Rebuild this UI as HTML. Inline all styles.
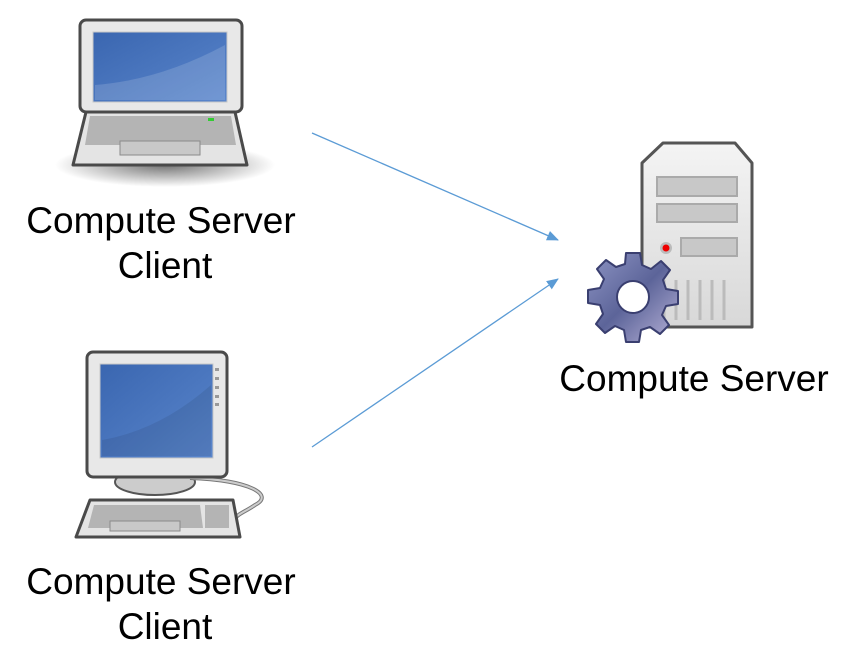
<!DOCTYPE html>
<html><head><meta charset="utf-8"><style>
html,body{margin:0;padding:0;background:#fff;}
svg{display:block;}
text{font-family:"Liberation Sans",Arial,sans-serif;font-size:37px;fill:#000;}
</style></head><body>
<svg width="855" height="672" viewBox="0 0 855 672" xmlns="http://www.w3.org/2000/svg">
<defs>
<linearGradient id="scr" x1="0" y1="0" x2="1" y2="1">
<stop offset="0" stop-color="#3a66b0"/><stop offset="1" stop-color="#5a86cc"/></linearGradient>
<radialGradient id="sh" cx="0.5" cy="0.5" r="0.5">
<stop offset="0" stop-color="#000" stop-opacity="0.55"/><stop offset="1" stop-color="#000" stop-opacity="0"/></radialGradient>
<linearGradient id="gear" x1="0" y1="0" x2="1" y2="1">
<stop offset="0" stop-color="#8e95c4"/><stop offset="0.5" stop-color="#5c6499"/><stop offset="1" stop-color="#b8b3d8"/></linearGradient>
<linearGradient id="srv" x1="0" y1="0" x2="0" y2="1">
<stop offset="0" stop-color="#f4f4f4"/><stop offset="1" stop-color="#d8d8d8"/></linearGradient>
<marker id="ah" markerWidth="12" markerHeight="10" refX="11" refY="5" orient="auto" markerUnits="userSpaceOnUse">
<path d="M0,0 L12,5 L0,10 Z" fill="#5b9bd5"/></marker>
</defs>

<ellipse cx="165" cy="165" rx="110" ry="22" fill="url(#sh)"/>
<path d="M86,112 L235,112 L247,165 L73,165 Z" fill="#e4e4e4" stroke="#4a4a4a" stroke-width="3" stroke-linejoin="round"/>
<path d="M90,116 L231,116 L236,145 L85,145 Z" fill="#b4b4b4"/>
<rect x="120" y="141" width="80" height="14" fill="#c8c8c8" stroke="#8a8a8a"/>
<rect x="208" y="118" width="6" height="3" fill="#3c3"/>
<rect x="80" y="20" width="162" height="92" rx="6" fill="#e8e8e8" stroke="#4a4a4a" stroke-width="3"/>
<rect x="93" y="32" width="134" height="70" fill="url(#scr)" stroke="#c8c8c8"/>
<path d="M95,85 Q160,80 225,45 L225,100 L95,100 Z" fill="#fff" opacity="0.15"/>

<ellipse cx="155" cy="482" rx="40" ry="13" fill="#ccc" stroke="#555" stroke-width="2"/>
<path d="M190,478 C250,480 275,495 255,505 C245,512 235,515 235,520" fill="none" stroke="#777" stroke-width="4"/>
<path d="M190,478 C250,480 275,495 255,505 C245,512 235,515 235,520" fill="none" stroke="#ccc" stroke-width="2"/>
<path d="M90,500 L233,500 L240,537 L76,537 Z" fill="#e4e4e4" stroke="#4a4a4a" stroke-width="3" stroke-linejoin="round"/>
<path d="M94,505 L200,505 L203,528 L88,528 Z" fill="#b4b4b4"/>
<rect x="205" y="505" width="24" height="23" fill="#b4b4b4"/>
<rect x="110" y="521" width="70" height="10" fill="#c8c8c8" stroke="#8a8a8a"/>
<rect x="87" y="352" width="140" height="125" rx="6" fill="#e8e8e8" stroke="#4a4a4a" stroke-width="3"/>
<rect x="100" y="364" width="113" height="94" fill="url(#scr)" stroke="#c8c8c8"/>
<path d="M102,440 Q160,430 211,385 L211,456 L102,456 Z" fill="#000" opacity="0.08"/>
<g fill="#999"><rect x="215" y="368" width="4" height="3"/><rect x="215" y="377" width="4" height="3"/><rect x="215" y="386" width="4" height="3"/><rect x="215" y="395" width="4" height="3"/><rect x="215" y="403" width="4" height="3"/></g>

<path d="M663,143 L735,143 L752,163 L752,327 L642,327 L642,163 Z" fill="url(#srv)" stroke="#555" stroke-width="3" stroke-linejoin="round"/>
<rect x="657" y="177" width="80" height="19" fill="#c8c8c8" stroke="#aaa" stroke-width="2"/>
<rect x="657" y="204" width="80" height="18" fill="#c8c8c8" stroke="#aaa" stroke-width="2"/>
<rect x="681" y="238" width="56" height="18" fill="#c8c8c8" stroke="#aaa" stroke-width="2"/>
<circle cx="666" cy="248" r="6" fill="#bbb"/><circle cx="666" cy="248" r="3.5" fill="#e00"/>
<g stroke="#bbb" stroke-width="3"><line x1="664" y1="280" x2="664" y2="320"/><line x1="676" y1="280" x2="676" y2="320"/><line x1="688" y1="280" x2="688" y2="320"/><line x1="700" y1="280" x2="700" y2="320"/><line x1="712" y1="280" x2="712" y2="320"/><line x1="724" y1="280" x2="724" y2="320"/></g>
<g transform="translate(633,297)">
<path d="M-7,-44 L7,-44 L9,-32 L18,-28 L28,-36 L37,-27 L30,-17 L33,-8 L45,-6 L45,7 L33,9 L29,18 L36,28 L27,37 L17,30 L8,33 L6,45 L-7,45 L-9,33 L-18,29 L-28,36 L-37,27 L-30,17 L-33,8 L-45,6 L-45,-7 L-33,-9 L-29,-18 L-36,-28 L-27,-37 L-17,-30 L-8,-33 Z" fill="url(#gear)" stroke="#3a3f70" stroke-width="2" stroke-linejoin="round"/>
<circle r="16" fill="#fff" stroke="#3a3f70" stroke-width="2"/>
</g>

<line x1="312" y1="133" x2="558" y2="240" stroke="#5b9bd5" stroke-width="1.3" marker-end="url(#ah)"/>
<line x1="312" y1="447" x2="558" y2="279" stroke="#5b9bd5" stroke-width="1.3" marker-end="url(#ah)"/>

<text x="161" y="233" text-anchor="middle">Compute Server</text>
<text x="165" y="278" text-anchor="middle">Client</text>
<text x="161" y="594" text-anchor="middle">Compute Server</text>
<text x="165" y="639" text-anchor="middle">Client</text>
<text x="694" y="391" text-anchor="middle">Compute Server</text>
</svg>
</body></html>
